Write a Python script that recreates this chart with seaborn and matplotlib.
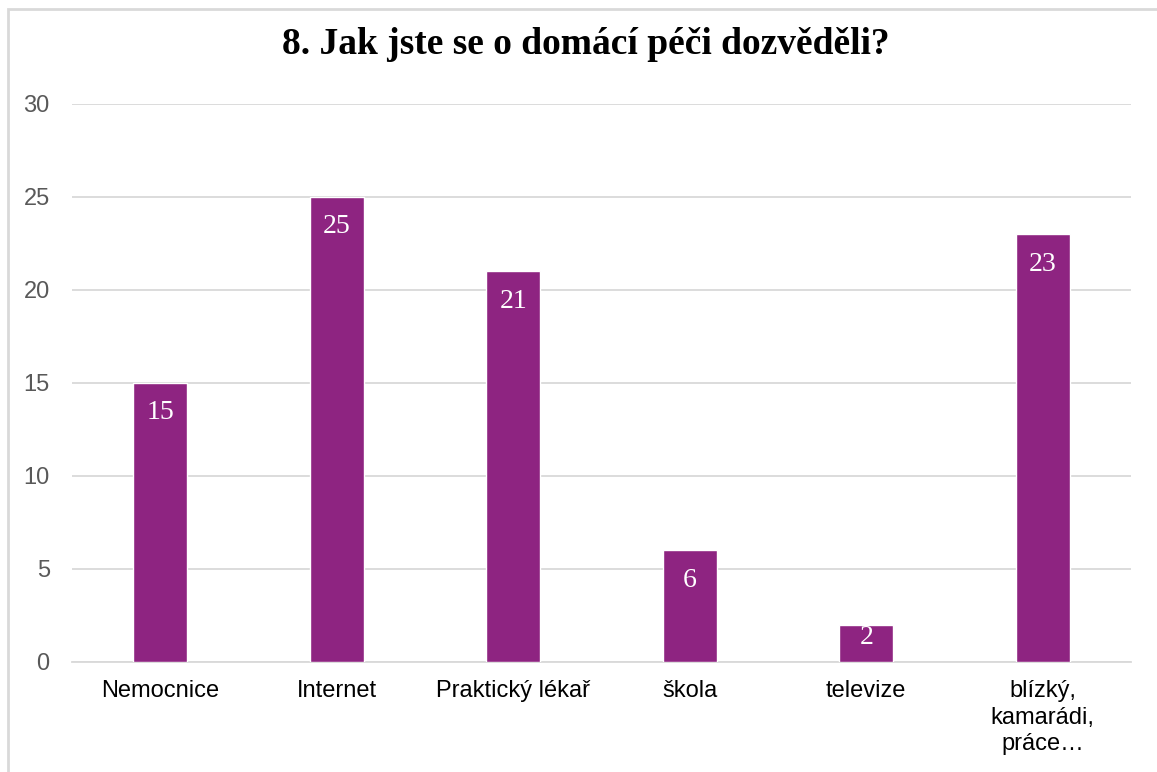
import matplotlib
matplotlib.use("Agg")
import matplotlib.pyplot as plt
import matplotlib.patches as mpatches
import seaborn as sns
import pandas as pd

categories = ["Nemocnice", "Internet", "Praktický lékař", "škola", "televize",
              "blízký,\nkamarádi,\npráce…"]
counts = [15, 25, 21, 6, 2, 23]
y_ticks = [0, 5, 10, 15, 20, 25, 30]
title = "8. Jak jste se o domácí péči dozvěděli?"

bar_color = "#8E2481"
grid_color = "#D9D9D9"
serif = ["Liberation Serif", "DejaVu Serif"]

df = pd.DataFrame({"kategorie": categories, "pocet": counts})

sns.set_theme(style="white")
plt.rcParams["font.family"] = ["Liberation Sans", "DejaVu Sans"]

fig = plt.figure(figsize=(11.57, 7.72), dpi=100)
ax = fig.add_axes([0.0622, 0.1425, 0.9153, 0.7228])

sns.barplot(data=df, x="kategorie", y="pocet", color=bar_color, width=0.306,
            saturation=1, ax=ax, zorder=3)

ax.set_ylim(0, 30)
ax.set_xlim(-0.5, len(categories) - 0.5)
ax.set_yticks(y_ticks)
ax.set_yticklabels([str(t) for t in y_ticks], fontsize=17, color="#595959")
ax.set_xticklabels(categories, fontsize=17, color="#000000", linespacing=1.27,
                   va="top")
ax.tick_params(axis="y", length=0, pad=16)
ax.tick_params(axis="x", length=0, pad=13)
ax.set_xlabel("")
ax.set_ylabel("")

ax.yaxis.grid(True, color=grid_color, linewidth=1.3, zorder=0)
ax.set_axisbelow(True)
for side in ["top", "right", "left"]:
    ax.spines[side].set_visible(False)
ax.spines["bottom"].set_color(grid_color)
ax.spines["bottom"].set_linewidth(1.3)

# value labels just inside the top of each bar (kept inside short bars)
px_per_unit = ax.get_window_extent().height / 30
for i, v in enumerate(counts):
    bar_px = v * px_per_unit
    offset_pt = min(30, bar_px / 3) * 72 / fig.dpi
    ax.annotate(str(v), xy=(i, v), xytext=(0, -offset_pt),
                textcoords="offset points", ha="center", va="center",
                color="white", fontsize=20, family=serif, zorder=4)

fig.text(586 / 1157, 1 - 45 / 772, title, ha="center", va="center",
         fontsize=27, fontweight="bold", color="black", family=serif)

# chart area frame
frame = mpatches.Rectangle((8 / 1157, -0.05), 1.1, 1 - 9 / 772 + 0.05,
                           transform=fig.transFigure, fill=False,
                           edgecolor=grid_color, linewidth=2, zorder=0)
fig.patches.append(frame)

fig.savefig("out.png", dpi=100, facecolor="white")
